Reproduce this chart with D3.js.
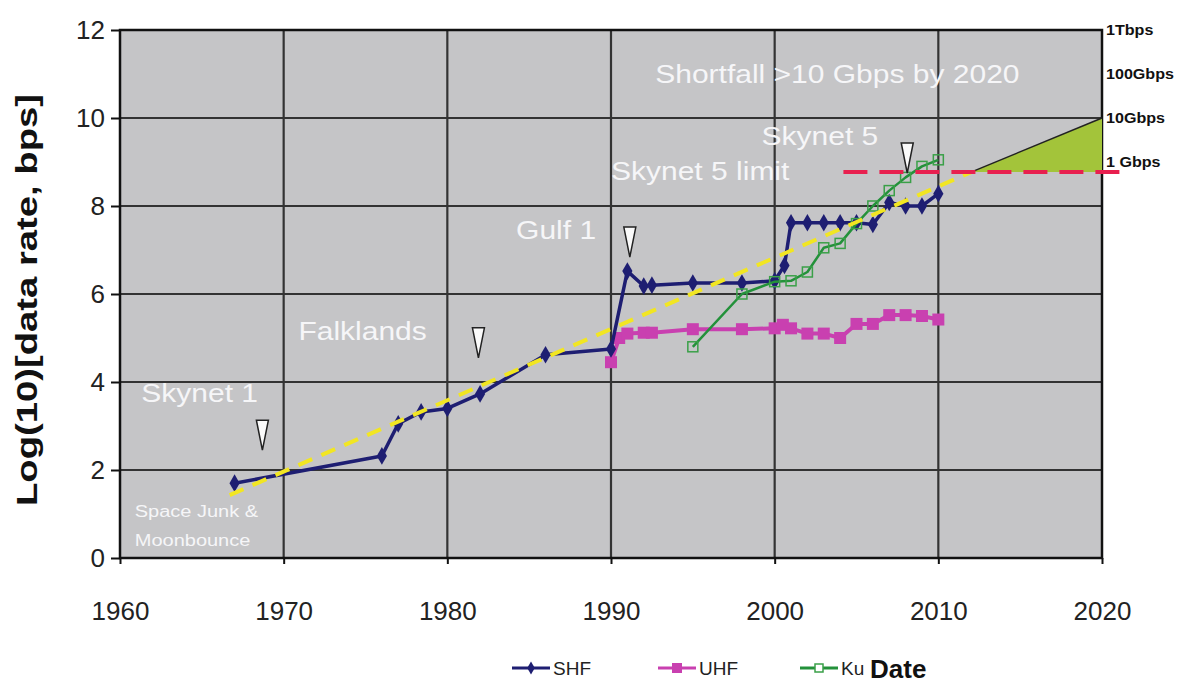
<!DOCTYPE html>
<html lang="en">
<head>
<meta charset="utf-8" />
<title>Data rate growth – SHF / UHF / Ku</title>
<style>
  body{margin:0;background:#fff;font-family:Arial,"Liberation Sans",sans-serif;}
  .tick text{font-size:26px;fill:#222;font-family:Arial,"Liberation Sans",sans-serif;}
  .note{fill:#f6f6f8;font-size:25px;}
  .rlab{font-size:14px;font-weight:bold;fill:#111;}
  .leg{font-size:19px;fill:#222;font-family:"Liberation Sans Narrow","Arial Narrow",Arial,sans-serif;}
</style>
<script src="https://cdn.jsdelivr.net/npm/d3@7.9.0/dist/d3.min.js"></script>
</head>
<body>
<div id="chart"></div>
<script>
/* ───── data ───── */
const shfYears  = [1967,1976,1977,1978.4,1980,1982,1986,1990,1991,1992,1992.5,1995,1998,2000,2000.6,2001,2002,2003,2004,2005,2006,2007,2008,2009,2010];
const shfValues = [1.70,2.32,3.05,3.32,3.40,3.73,4.62,4.75,6.52,6.18,6.20,6.25,6.25,6.30,6.65,7.62,7.62,7.62,7.62,7.62,7.58,8.08,8.00,8.00,8.28];

const uhfYears  = [1990,1990.5,1991,1992,1992.5,1995,1998,2000,2000.5,2001,2002,2003,2004,2005,2006,2007,2008,2009,2010];
const uhfValues = [4.45,5.00,5.10,5.12,5.12,5.20,5.20,5.22,5.30,5.22,5.10,5.10,5.00,5.32,5.32,5.52,5.52,5.50,5.42];

const kuYears   = [1995,1998,2000,2001,2002,2003,2004,2005,2006,2007,2008,2009,2010];
const kuValues  = [4.80,6.00,6.28,6.30,6.50,7.05,7.15,7.60,8.00,8.35,8.65,8.90,9.05];

const trendYears  = [1966.7,2012];
const trendValues = [1.43,8.77];

const limitYears  = [2004.2,2021.7];
const limitValue  = 8.77;

const gapYears  = [2012,2020,2020];
const gapValues = [8.77,10,8.77];

const eventYears  = [1968.7,1981.9,1991.15,2008.1];   // white pointers (tip position)
const eventValues = [2.45,4.55,6.84,8.75];

const noteTexts  = ['Shortfall >10 Gbps by 2020','Skynet 5','Skynet 5 limit','Gulf 1','Falklands','Skynet 1'];
const noteYears  = [1992.7,1999.2,1990.0,1984.2,1970.9,1961.3];
const noteValues = [10.8,9.38,8.6,7.25,4.95,3.55];

const smallTexts  = ['Space Junk &','Moonbounce'];
const smallYears  = [1960.9,1960.9];
const smallValues = [0.93,0.28];

const rateLabels = ['1Tbps','100Gbps','10Gbps','1 Gbps'];
const rateValues = [12,11,10,9];

const xTicks = [1960,1970,1980,1990,2000,2010,2020];
const yTicks = [0,2,4,6,8,10,12];

/* ───── layout ───── */
const W=1180,H=693;
const M={top:30,right:78,bottom:135,left:120};
const STRETCH=1.2;   // the source lettering is drawn wide

const svg=d3.select('#chart').append('svg').attr('width',W).attr('height',H);

const x=d3.scaleLinear([1960,2020],[M.left,W-M.right]);
const y=d3.scaleLinear([0,12],[H-M.bottom,M.top]);

/* plot background */
svg.append('rect')
  .attr('x',x(1960)).attr('y',y(12))
  .attr('width',x(2020)-x(1960)).attr('height',y(0)-y(12))
  .attr('fill','#c5c5c7');

/* grid */
const grid=svg.append('g').attr('stroke','#333').attr('stroke-width',2.2);
grid.selectAll('.gx').data(xTicks.slice(1,-1)).join('line')
  .attr('x1',d=>x(d)).attr('x2',d=>x(d)).attr('y1',y(0)).attr('y2',y(12));
grid.selectAll('.gy').data(yTicks.slice(1,-1)).join('line')
  .attr('x1',x(1960)).attr('x2',x(2020)).attr('y1',d=>y(d)).attr('y2',d=>y(d));

/* border */
svg.append('rect')
  .attr('x',x(1960)).attr('y',y(12))
  .attr('width',x(2020)-x(1960)).attr('height',y(0)-y(12))
  .attr('fill','none').attr('stroke','#111').attr('stroke-width',2.5);

/* axes */
const yAxis=svg.append('g').attr('transform',`translate(${x(1960)},0)`)
  .call(d3.axisLeft(y).tickValues(yTicks).tickSize(9).tickPadding(6));
const xAxis=svg.append('g').attr('transform',`translate(0,${y(0)})`)
  .call(d3.axisBottom(x).tickValues(xTicks).tickFormat(d3.format('d')).tickSize(6).tickPadding(38));
[yAxis,xAxis].forEach(a=>{
  a.select('.domain').remove();
  a.selectAll('.tick line').attr('stroke','#111').attr('stroke-width',2);
});

/* y title */
svg.append('text')
  .attr('transform',`translate(37,${(y(0)+y(12))/2+6}) rotate(-90)`)
  .attr('text-anchor','middle')
  .attr('font-size',29).attr('font-weight','bold').attr('fill','#111')
  .attr('textLength',412).attr('lengthAdjust','spacingAndGlyphs')
  .text('Log(10)[data rate, bps]');

/* shortfall wedge */
const gapPts=gapYears.map((d,i)=>[x(d),y(gapValues[i])]);
svg.append('path')
  .attr('d',d3.line()(gapPts)+'Z')
  .attr('fill','#a3c43a');
svg.append('line')
  .attr('x1',gapPts[0][0]).attr('y1',gapPts[0][1])
  .attr('x2',gapPts[1][0]).attr('y2',gapPts[1][1])
  .attr('stroke','#222').attr('stroke-width',1.5);

/* series */
const line=d3.line().x(d=>x(d[0])).y(d=>y(d[1]));
function series(years,vals,color,w){
  const pts=years.map((d,i)=>[d,vals[i]]);
  svg.append('path').datum(pts).attr('d',line)
    .attr('fill','none').attr('stroke',color).attr('stroke-width',w)
    .attr('stroke-linejoin','round');
  return pts;
}

const uhfPts=series(uhfYears,uhfValues,'#c940b0',4);
svg.selectAll('.um').data(uhfPts).join('rect')
  .attr('x',d=>x(d[0])-6).attr('y',d=>y(d[1])-6)
  .attr('width',12).attr('height',12).attr('fill','#c940b0');

const shfPts=series(shfYears,shfValues,'#1e1e72',3.5);
svg.selectAll('.sm').data(shfPts).join('path')
  .attr('d',d3.symbol(d3.symbolDiamond,90))
  .attr('transform',d=>`translate(${x(d[0])},${y(d[1])})`)
  .attr('fill','#1e1e72');

const kuPts=series(kuYears,kuValues,'#23913a',2.5);
svg.selectAll('.km').data(kuPts).join('rect')
  .attr('x',d=>x(d[0])-5).attr('y',d=>y(d[1])-5)
  .attr('width',10).attr('height',10)
  .attr('fill','none').attr('stroke','#3aa048').attr('stroke-width',1.5);

/* trend & limit */
svg.append('path').datum(trendYears.map((d,i)=>[d,trendValues[i]])).attr('d',line)
  .attr('fill','none').attr('stroke','#f2e622').attr('stroke-width',4)
  .attr('stroke-dasharray','15,10');
svg.append('line')
  .attr('x1',x(limitYears[0])).attr('x2',x(limitYears[1]))
  .attr('y1',y(limitValue)).attr('y2',y(limitValue))
  .attr('stroke','#e8204f').attr('stroke-width',4).attr('stroke-dasharray','24,12');

/* event pointers */
svg.selectAll('.ev').data(eventYears).join('path')
  .attr('d',(d,i)=>{
    const tx=x(d),ty=y(eventValues[i]);
    return `M${tx-6},${ty-30}L${tx+6},${ty-30}L${tx},${ty}Z`;
  })
  .attr('fill','#fafafa').attr('stroke','#222').attr('stroke-width',1.5);

/* annotations (wide lettering) */
svg.selectAll('.note').data(noteTexts).join('text')
  .attr('class','note')
  .attr('transform',(d,i)=>`translate(${x(noteYears[i])},${y(noteValues[i])}) scale(${STRETCH},1)`)
  .text(d=>d);
svg.selectAll('.small').data(smallTexts).join('text')
  .attr('fill','#f6f6f8').attr('font-size',16)
  .attr('transform',(d,i)=>`translate(${x(smallYears[i])},${y(smallValues[i])}) scale(1.25,1)`)
  .text(d=>d);

/* right-hand rate labels */
svg.selectAll('.rlab').data(rateLabels).join('text')
  .attr('class','rlab')
  .attr('transform',(d,i)=>`translate(${x(2020)+4},${y(rateValues[i])+5}) scale(1.15,1)`)
  .text(d=>d);

/* legend */
const legItems=[
  {name:'SHF',color:'#1e1e72',x0:512},
  {name:'UHF',color:'#c940b0',x0:658},
  {name:'Ku', color:'#23913a',x0:800}
];
const legY=668;
const leg=svg.append('g');
legItems.forEach(it=>{
  leg.append('line').attr('x1',it.x0).attr('x2',it.x0+38).attr('y1',legY).attr('y2',legY)
    .attr('stroke',it.color).attr('stroke-width',3);
  if(it.name==='SHF'){
    leg.append('path').attr('d',d3.symbol(d3.symbolDiamond,50))
      .attr('transform',`translate(${it.x0+19},${legY})`).attr('fill',it.color);
  }else if(it.name==='UHF'){
    leg.append('rect').attr('x',it.x0+14).attr('y',legY-5).attr('width',10).attr('height',10).attr('fill',it.color);
  }else{
    leg.append('rect').attr('x',it.x0+15).attr('y',legY-4).attr('width',8).attr('height',8)
      .attr('fill','#fff').attr('stroke','#3aa048').attr('stroke-width',1.5);
  }
  leg.append('text').attr('class','leg').attr('x',it.x0+41).attr('y',legY).attr('dy','0.35em').text(it.name);
});
svg.append('text').attr('x',870).attr('y',legY).attr('dy','0.38em')
  .attr('font-size',26).attr('font-weight','bold').attr('fill','#111').text('Date');
</script>
</body>
</html>
